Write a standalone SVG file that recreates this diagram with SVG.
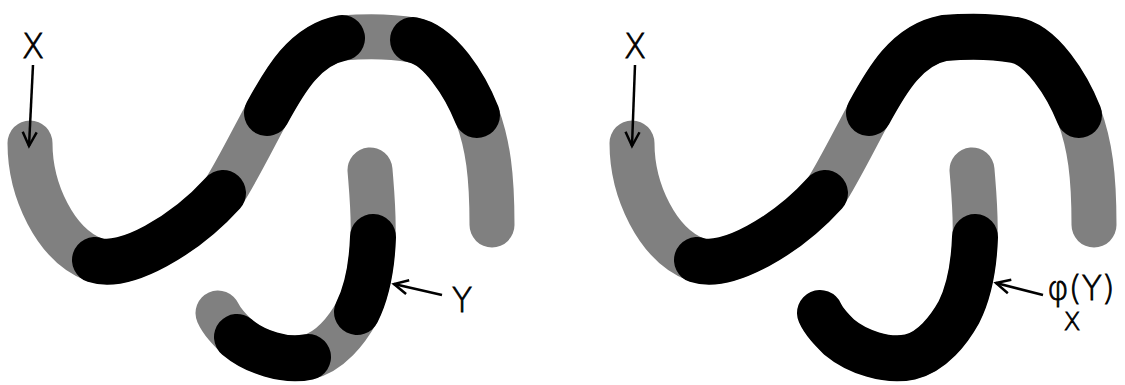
<svg xmlns="http://www.w3.org/2000/svg" width="1125" height="385" viewBox="0 0 1125 385">
<style>
.g{fill:none;stroke:#808080;stroke-width:45;stroke-linecap:round;stroke-linejoin:round}
.b{fill:none;stroke:#000;stroke-width:46;stroke-linecap:round;stroke-linejoin:round}
.a{fill:none;stroke:#000;stroke-width:2.5;marker-end:url(#ah)}
.t{font-family:"DejaVu Sans","Liberation Sans",sans-serif;font-weight:200;fill:#000;stroke:#000;stroke-width:0.8}
</style>
<defs>
<marker id="ah" markerUnits="userSpaceOnUse" markerWidth="20" markerHeight="20" viewBox="-16 -10 20 20" refX="0" refY="0" orient="auto">
<path d="M-14,-7 L0,0 L-14,7" fill="none" stroke="#000" stroke-width="2.5"/>
</marker>
<path id="S" d="M30,143 C30,190 55,245 95,260 C125,270 185,235 223,193 C235,175 255,135 267,113 C285,80 305,45 342,38 C365,36 390,36 413,40 C440,45 465,85 477,115 C488,145 492,175 492,225"/>
<path id="J" d="M370,170 C372,195 374,215 373,237 C372,265 368,290 357,312 C347,330 330,352 308,357 C285,362 255,352 237,337 C230,330 222,322 218,313"/>
</defs>
<g id="left-panel">
<g id="left-X-curve">
<use href="#S" class="g"/>
<path class="b" d="M95,260 C125,270 185,235 223,193"/>
<path class="b" d="M267,113 C285,80 305,45 342,38"/>
<path class="b" d="M413,40 C440,45 465,85 477,115"/>
</g>
<g id="left-Y-curve">
<use href="#J" class="g"/>
<path class="b" d="M373,237 C372,265 368,290 357,312"/>
<path class="b" d="M308,357 C285,362 255,352 237,337"/>
</g>
<text class="t" x="33" y="58" font-size="33" text-anchor="middle">X</text>
<text class="t" x="462" y="312" font-size="33" text-anchor="middle">Y</text>
</g>
<g id="right-panel">
<g id="right-X-curve" transform="translate(602,0)">
<use href="#S" class="g"/>
<path class="b" d="M95,260 C125,270 185,235 223,193"/>
<path class="b" d="M267,113 C285,80 305,45 342,38 C365,36 390,36 413,40 C440,45 465,85 477,115"/>
</g>
<g id="right-phiY-curve" transform="translate(602,0)">
<use href="#J" class="g"/>
<path class="b" d="M373,237 C372,265 368,290 357,312 C347,330 330,352 308,357 C285,362 255,352 237,337 C230,330 222,322 218,313"/>
</g>
<text class="t" x="635" y="58" font-size="33" text-anchor="middle">X</text>
<text class="t" x="1047" y="300" font-size="33">φ(Y)</text>
<text class="t" x="1072" y="330" font-size="25" text-anchor="middle">X</text>
</g>
<g id="connectors">
<line class="a" x1="33" y1="65" x2="29" y2="146"/>
<line class="a" x1="442" y1="295" x2="394" y2="284"/>
<line class="a" x1="635" y1="65" x2="632" y2="146"/>
<line class="a" x1="1043" y1="295" x2="996" y2="283"/>
</g>
</svg>
